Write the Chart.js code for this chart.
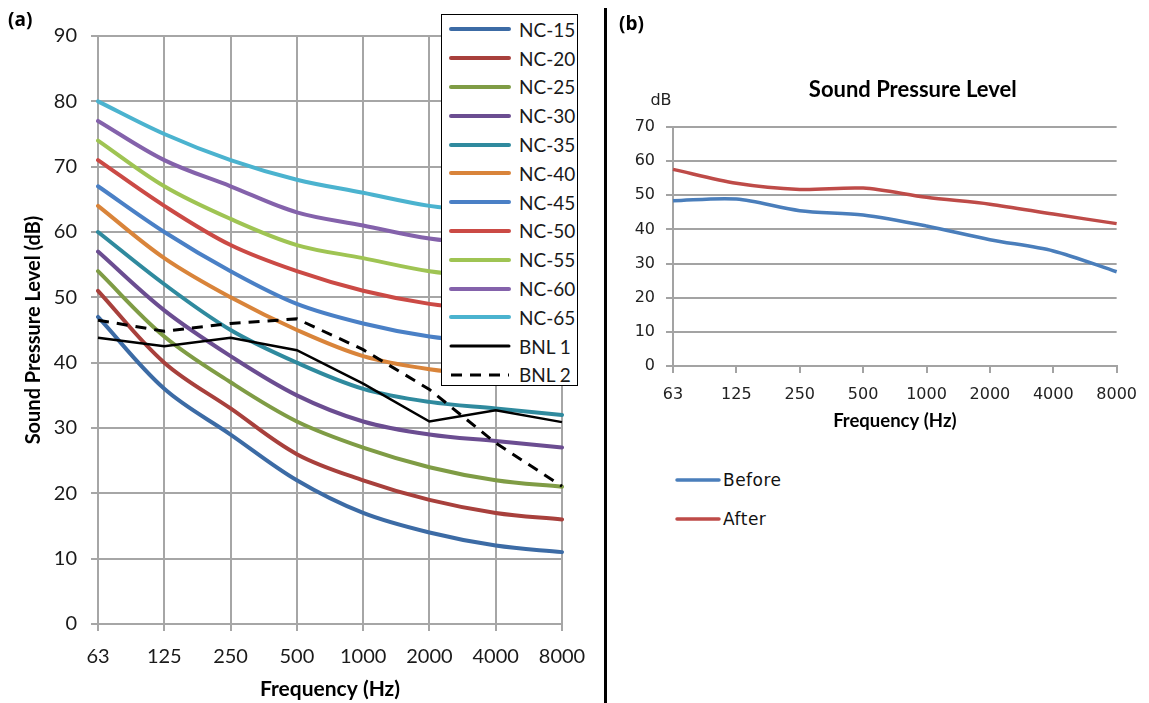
<!DOCTYPE html>
<html>
<head>
<meta charset="utf-8">
<script src="https://cdn.jsdelivr.net/npm/chart.js@4.4.1/dist/chart.umd.min.js"></script>
<style>
  body { margin: 0; background: #fff; }
  #page { position: relative; width: 1149px; height: 703px; overflow: hidden; font-family: Lato, sans-serif; }
  canvas { position: absolute; top: 0; }
  .tag { position: absolute; font-family: "Open Sans", sans-serif; font-size: 19px; font-weight: 700; color: #000; line-height: 1; }
  #divider { position: absolute; left: 604px; top: 8px; width: 2.5px; height: 695px; background: #000; }
  #legendA { position: absolute; left: 441px; top: 14px; width: 135px; height: 370px; border: 1.5px solid #000; background: #fff; }
  #legendA .row { height: 28.8px; display: flex; align-items: center; padding-left: 7px; font: 19px Lato, sans-serif; color: #1a1a1a; }
  #legendA svg { margin-right: 8px; }
  #legendB { position: absolute; left: 675px; top: 460px; }
  #legendB .row { height: 39px; display: flex; align-items: center; font: 17px "DejaVu Sans", sans-serif; letter-spacing: 0.5px; color: #111; }
  #legendB svg { margin-right: 2px; }
</style>
</head>
<body>
<div id="page">
  <canvas id="chartA" width="600" height="703" style="left:0"></canvas>
  <canvas id="chartB" width="542" height="436" style="left:607px"></canvas>
  <div class="tag" style="left:8px;top:10px">(a)</div>
  <div class="tag" style="left:619px;top:14px">(b)</div>
  <div id="divider"></div>
  <div id="legendA"></div>
  <div id="legendB"></div>
</div>
<script>
// frequency bands (Hz)
const frequencies = ['63', '125', '250', '500', '1000', '2000', '4000', '8000'];

// NC curves
const ncNames = ['NC-15', 'NC-20', 'NC-25', 'NC-30', 'NC-35', 'NC-40', 'NC-45', 'NC-50', 'NC-55', 'NC-60', 'NC-65'];
const nc15 = [47, 36, 29, 22, 17, 14, 12, 11];
const nc20 = [51, 40, 33, 26, 22, 19, 17, 16];
const nc25 = [54, 44, 37, 31, 27, 24, 22, 21];
const nc30 = [57, 48, 41, 35, 31, 29, 28, 27];
const nc35 = [60, 52, 45, 40, 36, 34, 33, 32];
const nc40 = [64, 56, 50, 45, 41, 39, 38, 37];
const nc45 = [67, 60, 54, 49, 46, 44, 43, 42];
const nc50 = [71, 64, 58, 54, 51, 49, 48, 47];
const nc55 = [74, 67, 62, 58, 56, 54, 53, 52];
const nc60 = [77, 71, 67, 63, 61, 59, 58, 57];
const nc65 = [80, 75, 71, 68, 66, 64, 63, 62];
const ncColors = ['#3c6ba5', '#a8403c', '#7f9c45', '#6b4d91', '#2f8a9e', '#d9843a',
                  '#4a80c6', '#cb4a45', '#9fc453', '#8462ab', '#4bb3cf'];

// measured background noise
const bnl1 = [43.8, 42.5, 43.8, 41.9, 36.8, 31.0, 32.7, 30.9];
const bnl2 = [46.5, 44.8, 46.0, 46.7, 42.0, 35.9, 27.7, 21.1];

// panel (b)
const beforeLevels = [48.4, 48.9, 45.5, 44.2, 41.0, 37.0, 33.7, 27.6];
const afterLevels = [57.6, 53.5, 51.7, 52.1, 49.4, 47.4, 44.5, 41.7];

const ncData = [nc15, nc20, nc25, nc30, nc35, nc40, nc45, nc50, nc55, nc60, nc65];

// ---- chart (a) ----
let datasetsA = ncNames.map(function(name, i) {
    return {
        label: name,
        data: ncData[i],
        borderColor: ncColors[i],
        borderWidth: 4,
        tension: 0.35,
        borderCapStyle: 'round',
        borderJoinStyle: 'round',
        pointRadius: 0,
        order: 20 - i
    };
});
datasetsA.push({ label: 'BNL 1', data: bnl1, borderColor: '#000', borderWidth: 2.5, tension: 0, pointRadius: 0, order: 1 });
datasetsA.push({ label: 'BNL 2', data: bnl2, borderColor: '#000', borderWidth: 3, borderDash: [11, 8], tension: 0, pointRadius: 0, order: 0 });

const gridA = '#a6a6a6';

new Chart(document.getElementById('chartA'), {
    type: 'line',
    data: { labels: frequencies, datasets: datasetsA },
    options: {
        responsive: false,
        animation: false,
        layout: { padding: { top: 36, right: 38, left: 0, bottom: 0 } },
        plugins: { legend: { display: false }, tooltip: { enabled: false } },
        scales: {
            x: {
                offset: false,
                grid: { color: gridA, lineWidth: 2, tickLength: 7 },
                border: { color: gridA, width: 2 },
                ticks: { autoSkip: false, maxRotation: 0, padding: 14, color: '#1a1a1a', font: { family: 'Lato', size: 20 } },
                title: { display: true, text: 'Frequency (Hz)', color: '#000', font: { family: 'Lato', size: 21, weight: 'bold' }, padding: { top: 0, bottom: 1 } },
                afterFit: function(axis) { axis.height = 79; }
            },
            y: {
                min: 0, max: 90,
                grid: { color: gridA, lineWidth: 2, tickLength: 7 },
                border: { color: gridA, width: 2 },
                ticks: { stepSize: 10, padding: 14, color: '#1a1a1a', font: { family: 'Lato', size: 20 } },
                title: { display: true, text: 'Sound Pressure Level (dB)', color: '#000', font: { family: 'Lato', size: 20, weight: 'bold' }, padding: { top: 22, bottom: 0 } },
                afterFit: function(axis) { axis.width = 98; }
            }
        }
    }
});

// ---- chart (b) ----
const chartTitleB = 'Sound Pressure Level';
const unitB = 'dB';
const gridB = '#a3a3a3';

// title and unit label above the plot
const panelBText = {
    id: 'panelBText',
    afterDraw: function(chart) {
        const ctx = chart.ctx;
        const area = chart.chartArea;
        ctx.save();
        ctx.fillStyle = '#000';
        ctx.textAlign = 'center';
        ctx.textBaseline = 'middle';
        ctx.font = 'bold 22px Lato';
        ctx.fillText(chartTitleB, (area.left + area.right) / 2 + 18, area.top - 37);
        ctx.fillStyle = '#222';
        ctx.font = '16px "DejaVu Sans"';
        ctx.fillText(unitB, area.left - 12, area.top - 26);
        ctx.restore();
    }
};

new Chart(document.getElementById('chartB'), {
    type: 'line',
    data: {
        labels: frequencies,
        datasets: [
            { label: 'Before', data: beforeLevels, borderColor: '#4a7ebb', borderWidth: 3.5, tension: 0.3, pointRadius: 0 },
            { label: 'After', data: afterLevels, borderColor: '#be4b48', borderWidth: 3.5, tension: 0.3, pointRadius: 0 }
        ]
    },
    plugins: [panelBText],
    options: {
        responsive: false,
        animation: false,
        layout: { padding: { top: 127, right: 28, left: 0, bottom: 0 } },
        plugins: { legend: { display: false }, tooltip: { enabled: false } },
        scales: {
            x: {
                offset: false,
                grid: { color: gridB, lineWidth: 2, tickLength: 7, drawOnChartArea: false },
                border: { color: gridB, width: 2 },
                ticks: { autoSkip: false, maxRotation: 0, padding: 12, color: '#222', font: { family: 'DejaVu Sans', size: 16 } },
                title: { display: true, text: 'Frequency (Hz)', color: '#000', font: { family: 'Lato', size: 18.5, weight: 'bold' }, padding: { top: 0, bottom: 4 } },
                afterFit: function(axis) { axis.height = 70; }
            },
            y: {
                min: 0, max: 70,
                grid: { color: gridB, lineWidth: 2, tickLength: 7 },
                border: { color: gridB, width: 2 },
                ticks: { stepSize: 10, padding: 11, color: '#222', font: { family: 'DejaVu Sans', size: 16 } },
                afterFit: function(axis) { axis.width = 66; }
            }
        }
    }
});

// ---- legends ----
function buildLegend(el, items, sampleWidth) {
    items.forEach(function(ds) {
        const row = document.createElement('div');
        row.className = 'row';
        const dash = ds.borderDash ? ds.borderDash.join(' ') : 'none';
        const w = Math.max(ds.borderWidth, 3);
        row.innerHTML = '<svg width="' + sampleWidth + '" height="10"><line x1="2" y1="5" x2="' + (sampleWidth - 2) +
            '" y2="5" stroke="' + ds.borderColor + '" stroke-width="' + w + '" stroke-linecap="' + (ds.borderDash ? 'butt' : 'round') +
            '" stroke-dasharray="' + dash + '"/></svg><span>' + ds.label + '</span>';
        el.appendChild(row);
    });
}
buildLegend(document.getElementById('legendA'), datasetsA, 62);
buildLegend(document.getElementById('legendB'), [
    { label: 'Before', borderColor: '#4a7ebb', borderWidth: 3.5 },
    { label: 'After', borderColor: '#be4b48', borderWidth: 3.5 }
], 46);
</script>
</body>
</html>
